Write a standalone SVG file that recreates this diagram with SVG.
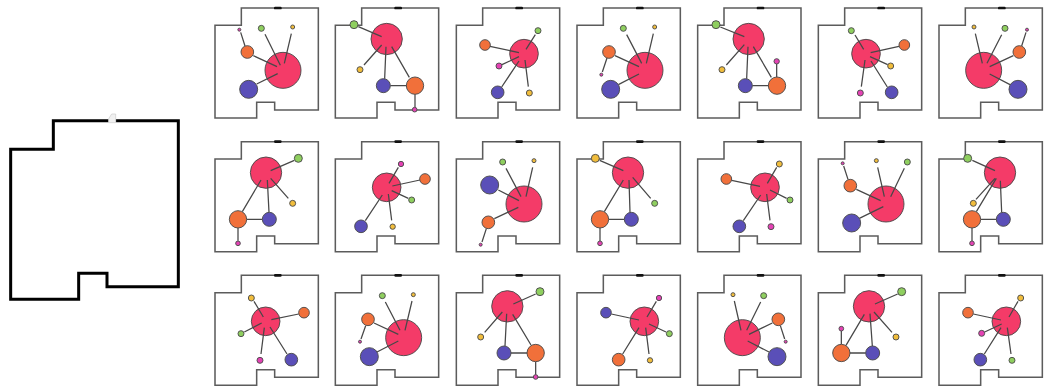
<svg xmlns="http://www.w3.org/2000/svg" width="1047" height="387" viewBox="0 0 1047 387">
<style>
.w{fill:none;stroke:#5c5c5c;stroke-width:4.6;stroke-linejoin:miter}
.d{fill:#111;stroke:none}
.c path{fill:none;stroke:#484848;stroke-width:3.8;stroke-linecap:butt}
circle{stroke:#4a4a4a;stroke-width:2.8}
.r{fill:#f43b68}.b{fill:#5a4fb8}.o{fill:#f1703a}.g{fill:#8fcf5f}.y{fill:#f1bd3c}.m{fill:#e442b4}
</style>
<defs>
<g id="room"><path class="w" d="M79 0H310V306H179V283H125V330H0V52H79Z"/><rect class="d" x="177" y="-4" width="23" height="8" rx="3.500"/></g>
</defs>
<rect width="1047" height="387" fill="#fff"/>
<g id="plan" transform="translate(0 100) scale(.33333)">
<path d="M160 62H535V560H321V520H236V598H32V148H160Z" fill="none" stroke="#000" stroke-width="9"/>
<rect x="326" y="56" width="21" height="13" fill="#fff"/>
<path d="M326 56L335 42H347V68H326Z" fill="#f0f0f0" stroke="#ccc" stroke-width="2"/>
</g>
<g id="p11" transform="translate(205 0) scale(.33333)">
<use href="#room" x="30" y="24"/>
<g id="p11r"><circle class="r" cx="234" cy="211" r="54"/></g>
<g id="p11c" class="c"><path d="M180 103L226 196M259 101L238 190M145 167L216 200M155 252L218 221M107 97L120 138"/></g>
<g id="p11b"><circle class="b" cx="131" cy="268" r="27"/></g>
<g id="p11o"><circle class="o" cx="127" cy="156" r="19"/></g>
<g id="p11g"><circle class="g" cx="169" cy="85" r="9"/></g>
<g id="p11y"><circle class="y" cx="263" cy="81" r="6"/></g>
<g id="p11m"><circle class="m" cx="103" cy="89" r="4.500"/></g>
</g>
<g id="p12" transform="translate(205 0) scale(.33333)">
<use href="#room" x="391" y="24"/>
<g id="p12r"><circle class="r" cx="545" cy="117" r="47"/></g>
<g id="p12c" class="c"><path d="M460 80L530 110M477 195L530 135M539 236L543 140M613 232L560 140M556 257L610 257M630 283L630 322"/></g>
<g id="p12g"><circle class="g" cx="447" cy="74" r="12"/></g>
<g id="p12y"><circle class="y" cx="465" cy="209" r="9"/></g>
<g id="p12b"><circle class="b" cx="535" cy="257" r="21"/></g>
<g id="p12o"><circle class="o" cx="630" cy="257" r="26"/></g>
<g id="p12m"><circle class="m" cx="629" cy="329" r="7"/></g>
</g>
<g id="p13" transform="translate(445 0) scale(.33333)">
<use href="#room" x="34" y="24"/>
<g id="p13r"><circle class="r" cx="237" cy="161" r="43"/></g>
<g id="p13c" class="c"><path d="M135 139L222 158M271 104L243 148M171 194L222 170M170 261L222 183M250 260L240 180"/></g>
<g id="p13o"><circle class="o" cx="120" cy="135" r="16"/></g>
<g id="p13g"><circle class="g" cx="279" cy="92" r="9"/></g>
<g id="p13m"><circle class="m" cx="162" cy="198" r="9"/></g>
<g id="p13b"><circle class="b" cx="158" cy="277" r="19"/></g>
<g id="p13y"><circle class="y" cx="253" cy="279" r="9"/></g>
</g>
<g id="p14" transform="translate(445 0) scale(.33333)">
<use href="#room" x="396" y="24"/>
<g id="p14r"><circle class="r" cx="600" cy="211" r="54"/></g>
<g id="p14c" class="c"><path d="M545 104L590 190M625 101L604 190M510 167L582 200M520 254L582 222M472 216L486 174"/></g>
<g id="p14o"><circle class="o" cx="492" cy="156" r="19"/></g>
<g id="p14b"><circle class="b" cx="497" cy="268" r="27"/></g>
<g id="p14g"><circle class="g" cx="535" cy="85" r="9"/></g>
<g id="p14y"><circle class="y" cx="629" cy="81" r="6"/></g>
<g id="p14m"><circle class="m" cx="469" cy="224" r="4.500"/></g>
</g>
<g id="p15" transform="translate(685 0) scale(.33333)">
<use href="#room" x="38" y="24"/>
<g id="p15r"><circle class="r" cx="191" cy="117" r="47"/></g>
<g id="p15c" class="c"><path d="M106 81L178 110M124 195L178 134M185 236L189 140M259 232L205 140M202 257L252 257M275 232L275 192"/></g>
<g id="p15g"><circle class="g" cx="93" cy="74" r="12"/></g>
<g id="p15y"><circle class="y" cx="111" cy="209" r="9"/></g>
<g id="p15b"><circle class="b" cx="181" cy="257" r="21"/></g>
<g id="p15o"><circle class="o" cx="276" cy="257" r="26"/></g>
<g id="p15m"><circle class="m" cx="275" cy="184" r="8"/></g>
</g>
<g id="p16" transform="translate(685 0) scale(.33333)">
<use href="#room" x="400" y="24"/>
<g id="p16r"><circle class="r" cx="543" cy="161" r="43"/></g>
<g id="p16c" class="c"><path d="M510 105L536 148M642 139L557 158M608 194L555 170M607 261L558 183M529 260L540 180"/></g>
<g id="p16g"><circle class="g" cx="499" cy="92" r="9"/></g>
<g id="p16o"><circle class="o" cx="658" cy="135" r="16"/></g>
<g id="p16y"><circle class="y" cx="617" cy="198" r="9"/></g>
<g id="p16b"><circle class="b" cx="620" cy="277" r="19"/></g>
<g id="p16m"><circle class="m" cx="526" cy="279" r="9"/></g>
</g>
<g id="p17" transform="translate(685 0) scale(.33333)">
<use href="#room" x="762" y="24"/>
<g id="p17r"><circle class="r" cx="896" cy="211" r="54"/></g>
<g id="p17c" class="c"><path d="M871 101L892 190M950 104L906 190M985 167L914 200M975 254L914 222M1023 97L1010 138"/></g>
<g id="p17o"><circle class="o" cx="1003" cy="156" r="19"/></g>
<g id="p17b"><circle class="b" cx="999" cy="268" r="27"/></g>
<g id="p17y"><circle class="y" cx="867" cy="81" r="6"/></g>
<g id="p17g"><circle class="g" cx="960" cy="85" r="9"/></g>
<g id="p17m"><circle class="m" cx="1026" cy="89" r="4.500"/></g>
</g>
<g id="p21" transform="translate(205 130) scale(.33333)">
<use href="#room" x="30" y="35"/>
<g id="p21r"><circle class="r" cx="183" cy="128" r="47"/></g>
<g id="p21c" class="c"><path d="M268 91L197 122M250 205L197 145M192 247L187 150M112 245L168 150M172 268L125 268M99 294L99 332"/></g>
<g id="p21g"><circle class="g" cx="280" cy="85" r="12"/></g>
<g id="p21y"><circle class="y" cx="263" cy="220" r="9"/></g>
<g id="p21b"><circle class="b" cx="193" cy="268" r="21"/></g>
<g id="p21o"><circle class="o" cx="99" cy="268" r="26"/></g>
<g id="p21m"><circle class="m" cx="99" cy="340" r="7"/></g>
</g>
<g id="p22" transform="translate(205 130) scale(.33333)">
<use href="#room" x="391" y="35"/>
<g id="p22r"><circle class="r" cx="545" cy="172" r="43"/></g>
<g id="p22c" class="c"><path d="M580 112L552 160M645 150L562 168M610 205L560 182M481 272L532 195M560 271L550 192"/></g>
<g id="p22m"><circle class="m" cx="588" cy="102" r="8"/></g>
<g id="p22o"><circle class="o" cx="660" cy="147" r="16"/></g>
<g id="p22g"><circle class="g" cx="620" cy="210" r="9"/></g>
<g id="p22b"><circle class="b" cx="468" cy="289" r="19"/></g>
<g id="p22y"><circle class="y" cx="563" cy="290" r="8"/></g>
</g>
<g id="p23" transform="translate(445 130) scale(.33333)">
<use href="#room" x="34" y="35"/>
<g id="p23r"><circle class="r" cx="237" cy="222" r="54"/></g>
<g id="p23c" class="c"><path d="M183 115L228 200M263 112L243 200M160 180L222 212M148 266L220 232M111 336L124 296"/></g>
<g id="p23b"><circle class="b" cx="134" cy="165" r="27"/></g>
<g id="p23o"><circle class="o" cx="130" cy="277" r="19"/></g>
<g id="p23g"><circle class="g" cx="173" cy="96" r="9"/></g>
<g id="p23y"><circle class="y" cx="267" cy="92" r="6"/></g>
<g id="p23m"><circle class="m" cx="107" cy="344" r="4.500"/></g>
</g>
<g id="p24" transform="translate(445 130) scale(.33333)">
<use href="#room" x="396" y="35"/>
<g id="p24r"><circle class="r" cx="549" cy="128" r="47"/></g>
<g id="p24c" class="c"><path d="M464 91L535 122M617 205L563 142M555 247L552 150M478 245L535 150M538 268L491 268M465 294L465 333"/></g>
<g id="p24y"><circle class="y" cx="451" cy="85" r="12"/></g>
<g id="p24g"><circle class="g" cx="629" cy="220" r="9"/></g>
<g id="p24b"><circle class="b" cx="559" cy="268" r="21"/></g>
<g id="p24o"><circle class="o" cx="465" cy="268" r="26"/></g>
<g id="p24m"><circle class="m" cx="465" cy="340" r="7"/></g>
</g>
<g id="p25" transform="translate(685 130) scale(.33333)">
<use href="#room" x="38" y="35"/>
<g id="p25r"><circle class="r" cx="240" cy="172" r="43"/></g>
<g id="p25c" class="c"><path d="M140 151L225 169M275 112L247 160M305 205L255 180M175 272L227 195M255 271L245 192"/></g>
<g id="p25o"><circle class="o" cx="124" cy="147" r="16"/></g>
<g id="p25y"><circle class="y" cx="283" cy="102" r="9"/></g>
<g id="p25g"><circle class="g" cx="315" cy="210" r="9"/></g>
<g id="p25b"><circle class="b" cx="163" cy="289" r="19"/></g>
<g id="p25m"><circle class="m" cx="258" cy="290" r="9"/></g>
</g>
<g id="p26" transform="translate(685 130) scale(.33333)">
<use href="#room" x="400" y="35"/>
<g id="p26r"><circle class="r" cx="603" cy="222" r="54"/></g>
<g id="p26c" class="c"><path d="M476 108L489 148M578 112L598 200M658 115L617 200M514 178L587 212M523 265L595 230"/></g>
<g id="p26o"><circle class="o" cx="496" cy="167" r="19"/></g>
<g id="p26b"><circle class="b" cx="500" cy="279" r="27"/></g>
<g id="p26y"><circle class="y" cx="574" cy="92" r="6"/></g>
<g id="p26g"><circle class="g" cx="667" cy="96" r="9"/></g>
<g id="p26m"><circle class="m" cx="473" cy="100" r="4.500"/></g>
</g>
<g id="p27" transform="translate(685 130) scale(.33333)">
<use href="#room" x="762" y="35"/>
<g id="p27r"><circle class="r" cx="945" cy="128" r="47"/></g>
<g id="p27c" class="c"><path d="M862 91L930 122M873 208L930 145M874 245L934 145M950 247L946 152M934 268L887 268M861 294L861 333"/></g>
<g id="p27g"><circle class="g" cx="848" cy="85" r="12"/></g>
<g id="p27y"><circle class="y" cx="865" cy="220" r="9"/></g>
<g id="p27b"><circle class="b" cx="955" cy="268" r="21"/></g>
<g id="p27o"><circle class="o" cx="861" cy="268" r="26"/></g>
<g id="p27m"><circle class="m" cx="861" cy="340" r="7"/></g>
</g>
<g id="p31" transform="translate(205 262) scale(.33333)">
<use href="#room" x="30" y="40"/>
<g id="p31r"><circle class="r" cx="182" cy="178" r="43"/></g>
<g id="p31c" class="c"><path d="M147 118L175 165M281 156L199 173M118 210L170 183M246 276L195 195M168 276L178 197"/></g>
<g id="p31o"><circle class="o" cx="297" cy="152" r="16"/></g>
<g id="p31y"><circle class="y" cx="139" cy="108" r="9"/></g>
<g id="p31g"><circle class="g" cx="108" cy="215" r="9"/></g>
<g id="p31b"><circle class="b" cx="259" cy="293" r="19"/></g>
<g id="p31m"><circle class="m" cx="165" cy="295" r="9"/></g>
</g>
<g id="p32" transform="translate(205 262) scale(.33333)">
<use href="#room" x="391" y="40"/>
<g id="p32r"><circle class="r" cx="596" cy="227" r="54"/></g>
<g id="p32c" class="c"><path d="M541 120L585 205M621 117L600 205M507 183L580 217M516 270L580 237M468 231L482 191"/></g>
<g id="p32o"><circle class="o" cx="489" cy="172" r="19"/></g>
<g id="p32b"><circle class="b" cx="493" cy="284" r="27"/></g>
<g id="p32g"><circle class="g" cx="532" cy="101" r="9"/></g>
<g id="p32y"><circle class="y" cx="625" cy="98" r="6"/></g>
<g id="p32m"><circle class="m" cx="465" cy="239" r="4.500"/></g>
</g>
<g id="p33" transform="translate(445 262) scale(.33333)">
<use href="#room" x="34" y="40"/>
<g id="p33r"><circle class="r" cx="187" cy="133" r="47"/></g>
<g id="p33c" class="c"><path d="M272 96L205 126M119 211L172 150M180 252L185 155M258 249L203 157M198 273L248 273M272 299L272 338"/></g>
<g id="p33g"><circle class="g" cx="285" cy="89" r="12"/></g>
<g id="p33y"><circle class="y" cx="107" cy="225" r="9"/></g>
<g id="p33b"><circle class="b" cx="177" cy="273" r="21"/></g>
<g id="p33o"><circle class="o" cx="272" cy="273" r="26"/></g>
<g id="p33m"><circle class="m" cx="272" cy="345" r="7"/></g>
</g>
<g id="p34" transform="translate(445 262) scale(.33333)">
<use href="#room" x="396" y="40"/>
<g id="p34r"><circle class="r" cx="598" cy="178" r="43"/></g>
<g id="p34c" class="c"><path d="M499 156L582 174M634 118L606 165M663 210L612 186M533 276L582 197M612 276L602 197"/></g>
<g id="p34b"><circle class="b" cx="483" cy="152" r="16"/></g>
<g id="p34m"><circle class="m" cx="642" cy="108" r="8"/></g>
<g id="p34g"><circle class="g" cx="673" cy="215" r="9"/></g>
<g id="p34o"><circle class="o" cx="521" cy="293" r="19"/></g>
<g id="p34y"><circle class="y" cx="615" cy="295" r="8"/></g>
</g>
<g id="p35" transform="translate(685 262) scale(.33333)">
<use href="#room" x="38" y="40"/>
<g id="p35r"><circle class="r" cx="172" cy="227" r="54"/></g>
<g id="p35c" class="c"><path d="M148 117L168 205M227 120L185 205M262 183L192 217M252 270L188 237M299 231L286 191"/></g>
<g id="p35o"><circle class="o" cx="280" cy="172" r="19"/></g>
<g id="p35b"><circle class="b" cx="276" cy="284" r="27"/></g>
<g id="p35y"><circle class="y" cx="144" cy="98" r="6"/></g>
<g id="p35g"><circle class="g" cx="236" cy="101" r="9"/></g>
<g id="p35m"><circle class="m" cx="302" cy="239" r="4.500"/></g>
</g>
<g id="p36" transform="translate(685 262) scale(.33333)">
<use href="#room" x="400" y="40"/>
<g id="p36r"><circle class="r" cx="552" cy="133" r="47"/></g>
<g id="p36c" class="c"><path d="M638 96L570 126M621 211L567 150M562 252L555 155M483 250L538 157M542 273L495 273M469 247L469 207"/></g>
<g id="p36g"><circle class="g" cx="650" cy="89" r="12"/></g>
<g id="p36y"><circle class="y" cx="633" cy="225" r="9"/></g>
<g id="p36b"><circle class="b" cx="563" cy="273" r="21"/></g>
<g id="p36o"><circle class="o" cx="469" cy="273" r="26"/></g>
<g id="p36m"><circle class="m" cx="469" cy="200" r="7"/></g>
</g>
<g id="p37" transform="translate(685 262) scale(.33333)">
<use href="#room" x="762" y="40"/>
<g id="p37r"><circle class="r" cx="964" cy="178" r="43"/></g>
<g id="p37c" class="c"><path d="M865 156L948 174M999 118L972 165M899 210L950 186M898 276L948 197M978 276L967 197"/></g>
<g id="p37o"><circle class="o" cx="849" cy="152" r="16"/></g>
<g id="p37y"><circle class="y" cx="1007" cy="108" r="9"/></g>
<g id="p37m"><circle class="m" cx="890" cy="214" r="9"/></g>
<g id="p37b"><circle class="b" cx="886" cy="293" r="19"/></g>
<g id="p37g"><circle class="g" cx="981" cy="295" r="9"/></g>
</g>
</svg>
